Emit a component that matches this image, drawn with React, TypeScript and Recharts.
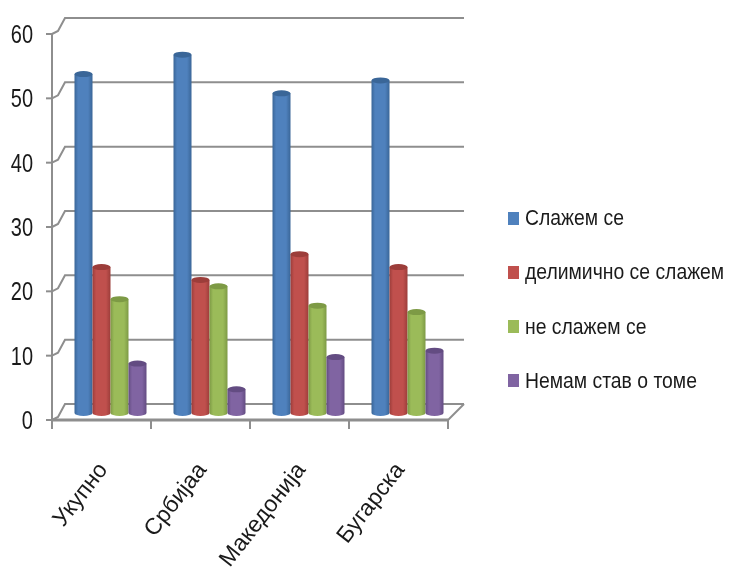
import { BarChart, Bar, XAxis, YAxis, CartesianGrid, Legend } from "recharts";

const categories = ["Укупно", "Србијаа", "Македонија", "Бугарска"];
const slazemSe = [53, 56, 50, 52];
const delimicno = [23, 21, 25, 23];
const neSlazem = [18, 20, 17, 16];
const nemamStav = [8, 4, 9, 10];
const yTicks = [0, 10, 20, 30, 40, 50, 60];

const seriesNames = ["Слажем се", "делимично се слажем", "не слажем се", "Немам став о томе"];
const seriesColors = ["#4f81bd", "#c0504d", "#9bbb59", "#8064a2"];
const seriesDark = ["#3a6698", "#9c3d3a", "#7d9a45", "#634c82"];

const tableData = categories.map((name, i) => ({
  name,
  a: slazemSe[i],
  b: delimicno[i],
  c: neSlazem[i],
  d: nemamStav[i],
}));

const FONT = "'Liberation Sans', sans-serif";
const AXIS = "#8e8e8e";
const DEPTH_X = 16;
const DEPTH_Y = 16;
const BAND = 99;

// wall lines: back line plus the short diagonal down to the front axis
function gridLine(props: any) {
  const { x1, x2, y1, key } = props;
  const isFloor = y1 > 400;
  return (
    <g key={key}>
      <path
        d={`M${x1} ${y1} L${x1 + 6} ${y1 - 3} L${x1 + DEPTH_X - 3} ${y1 - DEPTH_Y} L${x2 + DEPTH_X} ${y1 - DEPTH_Y}`}
        fill="none"
        stroke={AXIS}
        strokeWidth={2}
      />
      {isFloor && (
        <line x1={x2} y1={y1} x2={x2 + DEPTH_X} y2={y1 - DEPTH_Y} stroke={AXIS} strokeWidth={2} />
      )}
    </g>
  );
}

function cylinder(idx: number) {
  return (props: any) => {
    const { x, y, width, height } = props;
    const left = x + 8.5;
    const top = y - 5;
    const rx = width / 2;
    const ry = 3;
    const bottom = top + height - 2;
    return (
      <g>
        <path
          d={`M${left} ${top} L${left} ${bottom} A${rx} ${ry} 0 0 0 ${left + width} ${bottom} L${left + width} ${top} Z`}
          fill={`url(#cyl${idx})`}
        />
        <ellipse cx={left + rx} cy={top} rx={rx} ry={ry} fill={seriesDark[idx]} />
      </g>
    );
  };
}

function CategoryTick(props: any) {
  const { x, y, payload } = props;
  const isLast = payload.index === categories.length - 1;
  const tx = x + 7;
  const ty = y + 42;
  return (
    <g>
      <line x1={x - BAND / 2} y1={420} x2={x - BAND / 2} y2={429} stroke={AXIS} strokeWidth={2} />
      {isLast && <line x1={x + BAND / 2} y1={420} x2={x + BAND / 2} y2={429} stroke={AXIS} strokeWidth={2} />}
      <text
        x={tx}
        y={ty}
        textAnchor="end"
        fontFamily={FONT}
        fontSize={23}
        fill="#1a1a1a"
        transform={`rotate(-52 ${tx} ${ty})`}
      >
        {payload.value}
      </text>
    </g>
  );
}

// digits are tall and narrow in the source, so squeeze them horizontally
function ValueTick(props: any) {
  const { x, y, payload } = props;
  return (
    <text
      x={0}
      y={0}
      textAnchor="end"
      fontFamily={FONT}
      fontSize={25}
      fill="#1a1a1a"
      transform={`translate(${x} ${y + 9}) scale(0.8 1)`}
    >
      {payload.value}
    </text>
  );
}

function LegendBox() {
  return (
    <div style={{ position: "relative", width: 221, height: 190 }}>
      {seriesNames.map((label, i) => (
        <div
          key={label}
          style={{
            position: "absolute",
            left: 0,
            top: i * 54.3,
            display: "flex",
            alignItems: "center",
            height: 26,
            whiteSpace: "nowrap",
          }}
        >
          <span style={{ width: 11, height: 13, background: seriesColors[i], marginRight: 6, flex: "none" }} />
          <span
            style={{
              fontFamily: FONT,
              fontSize: 22,
              color: "#1a1a1a",
              transform: "scaleX(0.88)",
              transformOrigin: "left center",
            }}
          >
            {label}
          </span>
        </div>
      ))}
    </div>
  );
}

export default function App() {
  return (
    <div
      style={{
        position: "absolute",
        left: 0,
        top: 0,
        width: 729,
        height: 575,
        background: "#fff",
        filter: "blur(0.5px)",
      }}
    >
      <BarChart
        width={729}
        height={575}
        data={tableData}
        margin={{ top: 34, right: 60, bottom: 0, left: 0 }}
        barCategoryGap={13.5}
        barGap={0}
      >
        <defs>
          {seriesColors.map((c, i) => (
            <linearGradient key={c} id={`cyl${i}`} x1="0" y1="0" x2="1" y2="0">
              <stop offset="0" stopColor={seriesDark[i]} />
              <stop offset="0.2" stopColor={c} />
              <stop offset="0.75" stopColor={c} />
              <stop offset="1" stopColor={seriesDark[i]} />
            </linearGradient>
          ))}
        </defs>
        <CartesianGrid vertical={false} horizontal={gridLine} />
        <XAxis
          dataKey="name"
          height={155}
          interval={0}
          axisLine={{ stroke: AXIS, strokeWidth: 3 }}
          tickLine={false}
          tick={CategoryTick}
        />
        <YAxis
          width={52}
          domain={[0, 60]}
          ticks={yTicks}
          tickSize={6}
          tickMargin={13}
          axisLine={{ stroke: AXIS, strokeWidth: 2 }}
          tickLine={{ stroke: AXIS, strokeWidth: 2 }}
          tick={ValueTick}
        />
        <Legend
          layout="vertical"
          align="right"
          verticalAlign="top"
          content={<LegendBox />}
          wrapperStyle={{ left: 508, top: 205, width: 221 }}
        />
        <Bar dataKey="a" name={seriesNames[0]} fill={seriesColors[0]} barSize={18} shape={cylinder(0)} isAnimationActive={false} />
        <Bar dataKey="b" name={seriesNames[1]} fill={seriesColors[1]} barSize={18} shape={cylinder(1)} isAnimationActive={false} />
        <Bar dataKey="c" name={seriesNames[2]} fill={seriesColors[2]} barSize={18} shape={cylinder(2)} isAnimationActive={false} />
        <Bar dataKey="d" name={seriesNames[3]} fill={seriesColors[3]} barSize={18} shape={cylinder(3)} isAnimationActive={false} />
      </BarChart>
    </div>
  );
}
